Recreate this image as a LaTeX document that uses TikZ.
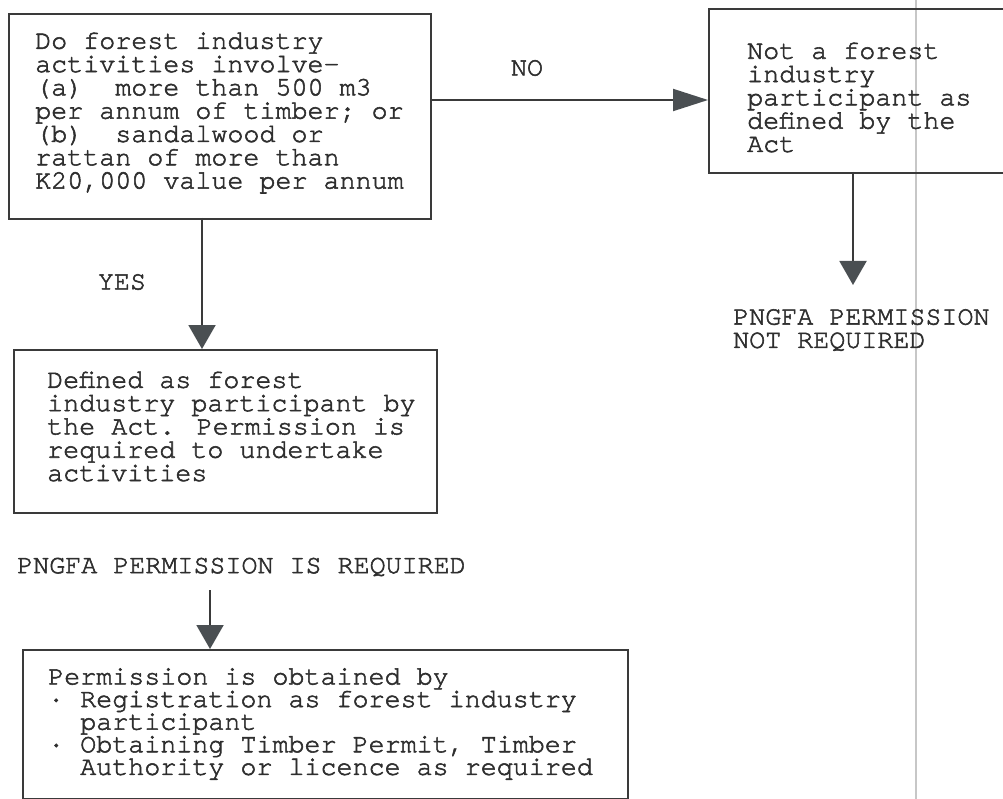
\documentclass[tikz,border=0pt]{standalone}
\usepackage{fontspec}
\newfontfamily\cour[WordSpace={1,0,0},FakeBold=2]{TeX Gyre Cursor}
\usetikzlibrary{arrows.meta}
\definecolor{ink}{HTML}{2E2E2E}
\definecolor{edge}{HTML}{3A3A3A}
\definecolor{head}{HTML}{4A4F52}
\tikzset{
  bigtext/.style={font=\cour\fontsize{26.7}{23.3}\selectfont, text=ink},
  lowtext/.style={font=\cour\fontsize{26.7}{22.6}\selectfont, text=ink},
  flowbox/.style={draw=edge, line width=2pt, anchor=north west, inner sep=0pt},
  flowarrow/.style={draw=edge, line width=2pt, -{Triangle[length=24pt,width=27pt,color=head]}},
  sidearrow/.style={draw=edge, line width=2pt, -{Triangle[length=35pt,width=22pt,color=head]}},
  plain/.style={inner sep=0pt, align=left}
}
\begin{document}
\begin{tikzpicture}[x=1pt,y=-1pt, every node/.append style={execute at begin node={\lineskiplimit=-60pt\relax}}]
\useasboundingbox (0,0) rectangle (1003,799);
\clip (0,0) rectangle (1003,799);
\fill[white] (0,0) rectangle (1003,799);
% scan edge line
\draw[black!22, line width=1.6pt] (916,0) -- (916,799);

% boxes
\node[flowbox, minimum width=422pt, minimum height=205pt] (q) at (8,13) {};
\node[flowbox, minimum width=312pt, minimum height=164pt] (notp) at (708,8) {};
\node[flowbox, minimum width=423pt, minimum height=163pt] (defd) at (13,349) {};
\node[flowbox, minimum width=605pt, minimum height=149pt] (obt) at (22,649) {};

% box texts
\node[plain, bigtext, anchor=west] (qt) at (35,113)
 {Do forest industry\\activities involve—\\(a)\ \ more than 500 m3\\per annum of timber; or\\(b)\ \ sandalwood or\\rattan of more than\\K20,000 value per annum};
\node[plain, bigtext, anchor=west] (notpt) at (747,97.5)
 {Not a forest\\industry\\participant as\\defined by the\\Act};
\node[plain, bigtext, anchor=west] (defdt) at (47,426.5)
 {Defined as forest\\industry participant by\\the Act. Permission is\\required to undertake\\activities};
\node[plain, lowtext, anchor=west] (obtt) at (48,724)
 {Permission is obtained by\\·\ Registration as forest industry\\\hphantom{·\ }participant\\·\ Obtaining Timber Permit, Timber\\\hphantom{·\ }Authority or licence as required};

% labels
\node[plain, bigtext] (no) at (527,68) {NO};
\node[plain, bigtext] (yes) at (122,282) {YES};
\node[plain, bigtext, anchor=north west] (notreq) at (733,309) {PNGFA PERMISSION\\NOT REQUIRED};
\node[plain, bigtext, anchor=west] (isreq) at (17,567) {PNGFA PERMISSION IS REQUIRED};

% connectors
\coordinate (nos) at (430,100);
\coordinate (noe) at (708,100);
\coordinate (yss) at (202,218);
\coordinate (yse) at (202,349);
\coordinate (nrs) at (853,172);
\coordinate (nre) at (853,285);
\coordinate (rqs) at (210,590);
\coordinate (rqe) at (210,649);

\draw[sidearrow] (nos) -- (noe);
\draw[flowarrow] (yss) -- (yse);
\draw[flowarrow] (nrs) -- (nre);
\draw[flowarrow] (rqs) -- (rqe);
\end{tikzpicture}
\end{document}
